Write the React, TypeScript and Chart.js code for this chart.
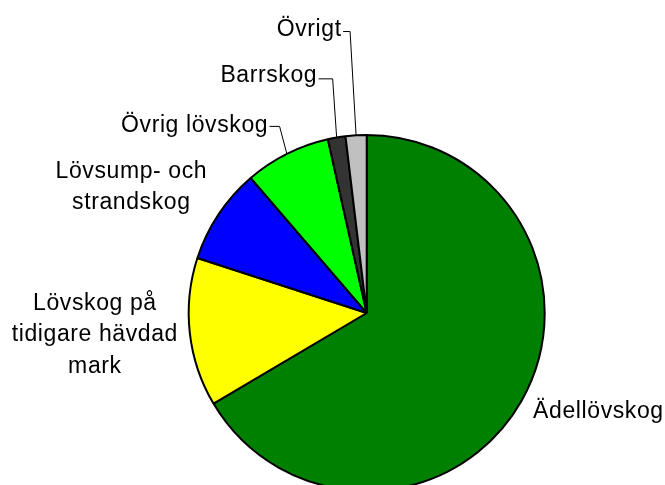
import React, { useEffect, useRef } from "react";
import { Chart, registerables } from "chart.js";

Chart.register(...registerables);

const categories: (string | string[])[] = [
  "Ädellövskog",
  ["Lövskog på", "tidigare hävdad", "mark"],
  ["Lövsump- och", "strandskog"],
  "Övrig lövskog",
  "Barrskog",
  "Övrigt",
];
const shares = [66.5, 13.5, 8.7, 7.8, 1.6, 1.9];
const sliceColors = ["#008000", "#FFFF00", "#0000FF", "#00FF00", "#333333", "#C0C0C0"];

// label placement relative to the slice's outer mid-point
const placements = [
  { dx: 11.8, dy: 16.6, align: "left" },
  { dx: -95.2, dy: -22.6, align: "center" },
  { dx: -87.5, dy: -36.7, align: "center" },
  { dx: -19.3, dy: -21.4, align: "right", elbow: [-7.3, -28] },
  { dx: -20, dy: -55.2, align: "right", elbow: [-4, -59.2] },
  { dx: -15, dy: -99.3, align: "right", elbow: [-6, -104.3] },
];

const FONT = '23px "Liberation Sans", Arial, sans-serif';
const SPACING = 0.6;
const LINE_H = 31.5;

const sliceLabels = {
  id: "sliceLabels",
  afterDatasetsDraw(chart: any) {
    const ctx = chart.ctx as CanvasRenderingContext2D;
    const meta = chart.getDatasetMeta(0);
    const labels = chart.data.labels as (string | string[])[];
    ctx.save();
    ctx.font = FONT;
    (ctx as any).letterSpacing = SPACING + "px";
    ctx.fillStyle = "#000";
    ctx.strokeStyle = "#000";
    ctx.lineWidth = 1;
    ctx.textBaseline = "alphabetic";
    ctx.textAlign = "left";
    meta.data.forEach((arc: any, i: number) => {
      const p = arc.getProps(["x", "y", "startAngle", "endAngle", "outerRadius"], true);
      const mid = (p.startAngle + p.endAngle) / 2;
      const ax = p.x + Math.cos(mid) * p.outerRadius;
      const ay = p.y + Math.sin(mid) * p.outerRadius;
      const cfg: any = placements[i];
      const raw = labels[i];
      const lines = Array.isArray(raw) ? raw : [raw];
      const tx = ax + cfg.dx;
      const ty = ay + cfg.dy;
      lines.forEach((line, li) => {
        const w = ctx.measureText(line).width - SPACING;
        let x = tx;
        if (cfg.align === "center") x = tx - w / 2;
        else if (cfg.align === "right") x = tx - w;
        ctx.fillText(line, x, ty + li * LINE_H);
      });
      if (cfg.elbow) {
        const ex = ax + cfg.elbow[0];
        const ey = ay + cfg.elbow[1];
        ctx.beginPath();
        ctx.moveTo(tx + 2, ey + 0.5);
        ctx.lineTo(ex, ey + 0.5);
        ctx.lineTo(ax, ay);
        ctx.stroke();
      }
    });
    ctx.restore();
  },
};

export default function App() {
  const ref = useRef<HTMLCanvasElement>(null);
  useEffect(() => {
    if (!ref.current) return;
    const chart = new Chart(ref.current, {
      type: "pie",
      data: {
        labels: categories as any,
        datasets: [
          {
            data: shares,
            backgroundColor: sliceColors,
            borderColor: "#000",
            borderWidth: 2,
          },
        ],
      },
      options: {
        responsive: false,
        animation: false,
        radius: 178,
        layout: { padding: { left: 188, right: 119.6, top: 134, bottom: 8 } },
        plugins: {
          legend: { display: false },
          tooltip: { enabled: false },
        },
      } as any,
      plugins: [sliceLabels],
    });
    return () => chart.destroy();
  }, []);
  return (
    <div
      style={{
        position: "fixed",
        left: 0,
        top: 0,
        width: 665,
        height: 485,
        overflow: "hidden",
        background: "#fff",
      }}
    >
      <canvas ref={ref} width={665} height={500} style={{ display: "block" }} />
    </div>
  );
}
